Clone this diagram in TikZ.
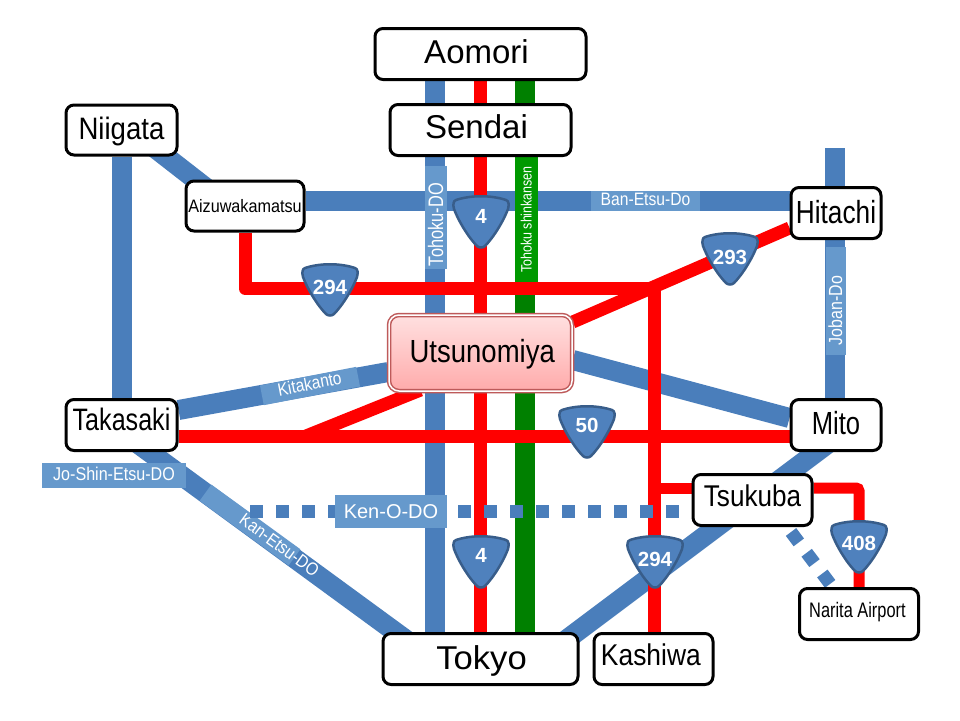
\documentclass[tikz,border=0pt]{standalone}
\usepackage{fontspec}
\setmainfont{Liberation Sans}
\usetikzlibrary{backgrounds,shadows}
\definecolor{roadblue}{HTML}{4A7EBB}
\definecolor{labelblue}{HTML}{6699CC}
\definecolor{roadgreen}{HTML}{008000}
\definecolor{labelgreen}{HTML}{009900}
\definecolor{shieldline}{HTML}{385D8A}
\definecolor{shieldfill}{HTML}{4F81BD}
\definecolor{utsuline}{HTML}{BE5A5A}
\newcommand{\boxtxt}[4]{\raisebox{#3pt}[0pt][0pt]{\fontsize{#1}{#1}\selectfont\scalebox{#2}[1]{#4}}}
\newcommand{\lbltxt}[3]{\fontsize{#1}{#1}\selectfont\scalebox{#2}[1]{#3}}
\tikzset{
  city/.style={draw=black,fill=white,line width=3pt,rounded corners=8pt,inner sep=0pt,text=black},
  blueroad/.style={draw=roadblue,line width=20pt},
  redroad/.style={draw=red,line width=13pt,line join=round},
  greenroad/.style={draw=roadgreen,line width=20pt},
  bluedots/.style={draw=roadblue,line width=13pt,dash pattern=on 13pt off 13pt},
  roadlabel/.style={fill=labelblue,text=white,inner sep=0pt,text height=0pt,text depth=0pt},
  shieldnum/.style={text=white,inner sep=0pt,font=\fontsize{20.5}{20.5}\selectfont\bfseries},
  shield/.pic={
    \path[draw=shieldline,fill=shieldfill,line width=2.5pt]
      (-25,-22) .. controls (-10,-27) and (10,-27) .. (25,-22)
      .. controls (28,-21) and (28,-17) .. (27,-13)
      .. controls (23,-2) and (13,15) .. (4,24)
      .. controls (2,26) and (-2,26) .. (-4,24)
      .. controls (-13,15) and (-23,-2) .. (-27,-13)
      .. controls (-28,-17) and (-28,-21) .. (-25,-22) -- cycle;
  }
}
\begin{document}
\begin{tikzpicture}[x=1pt,y=-1pt]
\useasboundingbox (0,0) rectangle (960,720);
% cities
\node[city,minimum width=211pt,minimum height=51pt] (aomori) at (480.5,54) {\boxtxt{33}{1}{-9}{\kern-8pt Aomori}};
\node[city,minimum width=181pt,minimum height=51pt] (sendai) at (480.5,130) {\boxtxt{33}{1}{-8}{\kern-8pt Sendai}};
\node[city,minimum width=111pt,minimum height=50pt] (niigata) at (121.5,130) {\boxtxt{31}{.89}{-9}{Niigata}};
\node[city,minimum width=118pt,minimum height=50pt] (aizu) at (245,206) {\boxtxt{18}{.9}{-6}{Aizuwakamatsu}};
\node[city,minimum width=90pt,minimum height=51pt] (hitachi) at (836,213) {\boxtxt{32}{.82}{-10}{Hitachi}};
\node[city,minimum width=111pt,minimum height=51pt] (takasaki) at (121.5,425) {\boxtxt{31}{.81}{-5}{Takasaki}};
\node[city,minimum width=90pt,minimum height=51pt] (mito) at (836,425) {\boxtxt{32}{.8}{-9}{Mito}};
\node[city,minimum width=119pt,minimum height=51pt] (tsukuba) at (752.5,500) {\boxtxt{30}{.87}{-6}{Tsukuba}};
\node[city,minimum width=119pt,minimum height=51pt] (narita) at (859,614) {\boxtxt{21}{.78}{-3}{\kern-4pt Narita Airport}};
\node[city,minimum width=195pt,minimum height=51pt] (tokyo) at (480.5,659) {\boxtxt{33}{1.05}{-10}{\kern2pt Tokyo}};
\node[city,minimum width=119pt,minimum height=51pt] (kashiwa) at (653.5,659) {\boxtxt{30}{.88}{-6}{\kern-6pt Kashiwa}};
\node[draw=utsuline,line width=1.5pt,double=white,double distance=1.5pt,rounded corners=10pt,
  top color=red!12,bottom color=red!33,minimum width=183pt,minimum height=76pt,inner sep=0pt,
  drop shadow={opacity=.25,shadow xshift=0pt,shadow yshift=-2pt}]
  (utsu) at (480.5,353) {\boxtxt{32}{.86}{-9}{\kern4pt Utsunomiya}};
% shields
\pic (s1) at (481,222) {shield};
\node[shieldnum] (s1t) at (481,216) {4};
\pic (s2) at (330,290) {shield};
\node[shieldnum] (s2t) at (330,287) {294};
\pic (s3) at (730,259) {shield};
\node[shieldnum] (s3t) at (730,257) {293};
\pic (s4) at (587,432) {shield};
\node[shieldnum] (s4t) at (587,425) {50};
\pic (s5) at (481,562) {shield};
\node[shieldnum] (s5t) at (481,555) {4};
\pic (s6) at (655,562) {shield};
\node[shieldnum] (s6t) at (655,559) {294};
\pic (s7) at (859,547) {shield};
\node[shieldnum] (s7t) at (859,543) {408};
% roads
\begin{scope}[on background layer]
\coordinate (hitop) at (835,148);
\coordinate (junc) at (654.5,288.5);
\coordinate (k1) at (250,511);
\coordinate (k2) at (679,511);
\coordinate (n1) at (791,532);
\coordinate (n2) at (831,585);
% blue
\draw[blueroad] ([xshift=-45.5pt]aomori.south) -- ([xshift=-45.5pt]tokyo.north);
\draw[blueroad] ([yshift=5pt]aizu.east) -- ([yshift=12pt]hitachi.west);
\draw[blueroad] (hitop) -- ([xshift=-1pt]mito.north);
\draw[blueroad] (niigata.south) -- (takasaki.north);
\draw[blueroad] ([xshift=27.5pt,yshift=13pt]niigata.south) -- ([xshift=-33pt,yshift=-13pt]aizu.north);
\draw[blueroad] ([yshift=15pt]takasaki.east) -- ([yshift=-19pt]utsu.west);
\draw[blueroad] ([yshift=-7pt]utsu.east) -- ([yshift=7pt]mito.west);
\draw[blueroad] ([xshift=15.5pt,yshift=9pt]takasaki.south) -- ([xshift=-71.5pt,yshift=-10pt]tokyo.north);
\draw[blueroad] ([xshift=77.5pt,yshift=-14pt]tokyo.north) -- ([xshift=-6pt,yshift=10pt]mito.south);
% green
\draw[greenroad] ([xshift=44.5pt]aomori.south) -- ([xshift=44.5pt]tokyo.north);
% red
\draw[redroad] (aomori.south) -- (tokyo.north);
\draw[redroad] (aizu.south) |- (junc) -- ([xshift=1pt]kashiwa.north);
\draw[redroad] ([yshift=31pt]utsu.east) -- ([yshift=-15pt]hitachi.west);
\draw[redroad] ([yshift=-11pt]takasaki.east) -- ([yshift=-11pt]mito.west);
\coordinate (forkfoot) at (306,436);
\draw[redroad] (forkfoot) -- ([xshift=-60pt,yshift=-37pt]utsu.center);
\draw[draw=red,line width=11pt] ([yshift=12pt]tsukuba.west) -- ++(-37,0);
\draw[draw=red,line width=11pt,rounded corners=3pt] ([yshift=12pt]tsukuba.east) -| (narita.north);
% labels
\node[roadlabel,rotate=90,minimum width=103pt,minimum height=22pt] (ltohoku) at (436,217.5)
  {\raisebox{-7pt}[0pt][0pt]{\makebox[97pt][l]{\lbltxt{21}{.78}{Tohoku-DO}}}};
\node[fill=labelgreen,text=white,inner sep=0pt,rotate=90,minimum width=125pt,minimum height=23pt] (lshin) at (526.5,219.5)
  {\raisebox{-5pt}[0pt][0pt]{\lbltxt{15}{.83}{Tohoku shinkansen}}};
\node[roadlabel,minimum width=109pt,minimum height=20pt] (lban) at (645.5,201)
  {\raisebox{-4pt}[0pt][0pt]{\lbltxt{18}{.87}{Ban-Etsu-Do}}};
\node[roadlabel,rotate=90,minimum width=108pt,minimum height=20pt] (ljoban) at (836,301)
  {\raisebox{-6pt}[0pt][0pt]{\makebox[88pt][l]{\lbltxt{19}{.84}{Joban-Do}}}};
\node[roadlabel,rotate=11,minimum width=98pt,minimum height=20pt] (lkita) at (310,386)
  {\raisebox{-4pt}[0pt][0pt]{\lbltxt{18}{.86}{Kitakanto}}};
\node[roadlabel,minimum width=144pt,minimum height=25pt] (ljo) at (114,475.5)
  {\raisebox{-5pt}[0pt][0pt]{\lbltxt{18.5}{.87}{Jo-Shin-Etsu-DO}}};
\node[roadlabel,rotate=-36,minimum width=110pt,minimum height=20pt] (lkan) at (250,525)
  {\raisebox{-5pt}[0pt][0pt]{\makebox[110pt][l]{\hspace*{44pt}\lbltxt{18}{.87}{Kan-Etsu-DO}}}};
% dotted
\draw[bluedots] (k1) -- (k2);
\draw[bluedots] (n1) -- (n2);
\node[roadlabel,minimum width=112pt,minimum height=33pt] (lken) at (391,511.5)
  {\raisebox{-7pt}[0pt][0pt]{\lbltxt{20}{1}{Ken-O-DO}}};
\end{scope}
\end{tikzpicture}
\end{document}
